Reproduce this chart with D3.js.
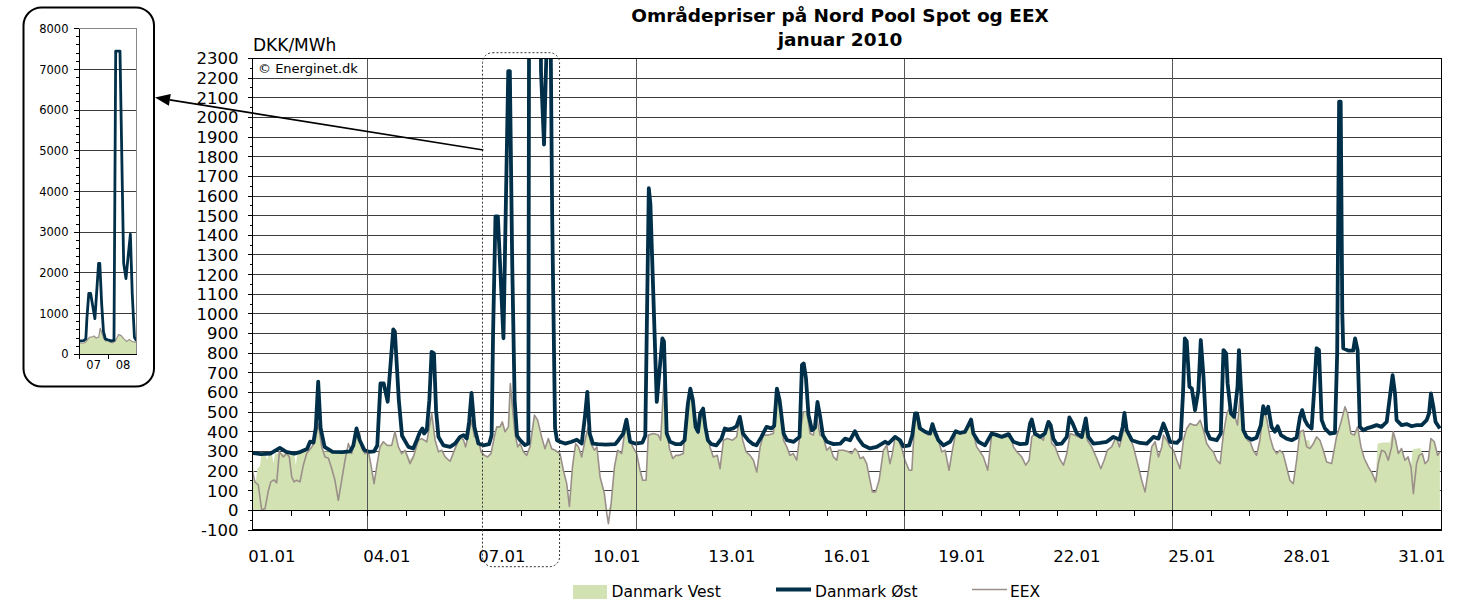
<!DOCTYPE html>
<html>
<head>
<meta charset="utf-8">
<script src="https://cdn.jsdelivr.net/npm/d3@7/dist/d3.min.js"></script>
<style>
  body { margin: 0; background: #fff; }
  text { font-family: "DejaVu Sans", Verdana, sans-serif; fill: #000; }
</style>
</head>
<body>
<svg id="chart" width="1468" height="602"></svg>
<script>
// ---- data (hour of month, DKK/MWh) ----
const titleLines = ["Områdepriser på Nord Pool Spot og EEX", "januar 2010"];
const unitLabel = "DKK/MWh";
const sourceLabel = "© Energinet.dk";
const seriesNames = ["Danmark Vest", "Danmark Øst", "EEX"];
const dayLabels = ["01.01","04.01","07.01","10.01","13.01","16.01","19.01","22.01","25.01","28.01","31.01"];
const labelDays = [1,4,7,10,13,16,19,22,25,28,31];
const weekStarts = [4, 11, 18, 25];   // mondays, vertical gridlines
const yTicks = d3.range(-100, 2301, 100);
const insetTicks = d3.range(0, 8001, 1000);
const insetDays = ["07", "08"];

const ost = [
[0,292],[5,286],[11,289],[17,318],[21,298],[26,289],[30,298],[34,312],[36,350],[38,345],[39.5,420],[41,655],[42.5,420],[45,323],[50,298],[56,296],[61,300],[63,330],[65,417],[67,357],[70,306],[73,298],[76,300],[78,330],[80,646],[82,646],[84.5,553],[88,921],[89,910],[91.5,560],[93.5,380],[97.5,323],[100.5,315],[102.7,357],[104.8,400],[106.3,417],[107.3,391],[109,408],[110.6,561],[112,807],[113.5,799],[114.8,510],[116.3,374],[119.4,331],[123.6,323],
[126.7,340],[129.8,374],[132,383],[134,366],[135.5,450],[137,598],[138.8,425],[141.3,340],[144.4,331],[148,337],[149.6,383],[150.5,900],[152,1496],[153.5,1496],[157,876],[160,2236],[161,2236],[162.5,1250],[164,560],[165.5,380],[167.4,357],[170.5,332],[172.6,340],[174,7450],[177.5,7450],[180.5,2236],[182.4,1862],[183.6,2236],[186,2950],[187.5,1500],[189.3,420],[190.5,357],[192.4,349],[195.6,340],[199.7,349],[202.9,360],[206,340],[208,476],[209.5,603],[211,391],[213,340],[216,337],[221,335],[227,337],[229,357],[232,391],[234,462],[236.3,349],[239.4,340],
[244,345],[245.8,380],[248,1640],[249,1560],[253,552],[256.5,875],[257.5,860],[259.2,391],[261.3,349],[265,337],[268,337],[270.4,357],[272.5,544],[274,620],[275.6,561],[277.3,425],[278.8,400],[280.2,493],[282,518],[283.4,425],[285,357],[287.2,337],[290.3,331],[293.5,365],[295.6,417],[297.7,411],[300.8,417],[302.9,428],[305,476],[307,391],[310.2,357],[313.3,337],[315.4,331],[318.5,374],[321.7,425],[324.8,417],[326.5,430],[328.2,620],[329.9,561],[332.4,391],[334.5,357],[338.7,349],[342.4,374],[343.9,740],[345,748],[346.4,672],[348,485],[350.2,408],[352,420],[353.6,552],[355.3,476],[357,383],[359.5,349],[363.7,337],[367.9,340],
[370.9,365],[374,357],[377.1,403],[379.2,365],[382.3,331],[386.5,315],[390.7,323],[395.9,349],[398,340],[402.2,374],[405.3,357],[407.4,326],[411,331],[413,383],[414.7,493],[416,493],[417.8,417],[421,400],[424.1,391],[425.6,439],[426.8,408],[429.3,357],[432.5,331],[436.6,349],[440.2,403],[442.9,394],[446,400],[448.1,434],[449.8,462],[451.2,391],[454.4,349],[458.5,331],[462.7,391],[465.9,383],[469,374],[473.2,388],[476.3,349],[480.5,337],[484.6,340],[486.7,442],[487.8,462],[489.8,391],[493,374],[496,391],[498.2,450],[499.6,434],[501.3,365],[503.4,337],[506.5,340],[509.7,374],[511.3,473],[513.4,442],[516,391],[519.1,374],[521.6,468],[523.2,374],[526.4,340],[530.5,343],[534.7,349],[538.9,374],[542.7,360],[544.7,425],[545.8,496],[547.2,408],[550.4,357],[555.6,343],[559.8,340],[564,374],[567.1,365],[570.2,442],[571.9,408],[574.4,349],
[578.6,343],[581,365],[582.5,600],[583.6,875],[584.8,860],[586.5,629],[588,620],[590,510],[592.1,612],[593.6,867],[595.3,680],[597,408],[599.4,365],[603.6,357],[606.1,391],[607.8,816],[609.5,799],[610.4,646],[612.5,493],[614.5,476],[616.6,629],[617.5,816],[618.7,629],[620.2,408],[622.3,374],[625.4,360],[628.5,370],[631.2,434],[632.7,530],[634.2,493],[635.8,527],[637.9,425],[640,400],[641.7,428],[643.8,383],[647.3,365],[650.5,357],[653.6,370],[655.7,476],[657.1,510],[658.8,459],[660.5,434],[663,417],[664.5,600],[666.1,825],[667.6,816],[669.3,459],[671.3,417],[674.5,391],[677.6,394],[679,800],[680.2,2080],[681.2,2080],[682.2,1000],[682.8,825],[686,813],[689,813],[690.2,875],[691.8,816],[693.2,425],[695.3,408],[697.5,417],[700.6,425],[703.7,434],[706.8,425],[710,450],[712,578],[713.7,688],[715.2,595],[716.2,459],[719.3,434],[722.5,439],[725.6,428],[728.7,434],[731.9,434],[735,459],[736.5,493],[737.7,595],[739.2,527],[740.6,450],[743.3,417]
];

const eex = [
[0,195],[1.4,144],[3.5,130],[5.6,3],[7.7,8],[9.8,100],[11.3,145],[13.3,155],[15,140],[16.7,298],[19.2,272],[21.3,289],[22.9,272],[24.4,170],[25.9,145],[27.5,153],[29.6,145],[31.7,230],[33.8,289],[37,323],[39,350],[41,442],[43.2,323],[45.3,272],[47.4,265],[49.5,212],[51.5,153],[53.6,51],[55.7,153],[57.8,255],[59.9,340],[62,289],[64.7,391],[66.8,400],[68.2,315],[70.3,289],[72.4,300],[73.9,238],[76,136],[77.6,221],[79.7,323],[81.8,349],[84.3,330],[87,331],[89.1,400],[91.2,323],[93.3,289],[95.4,306],[98.5,238],[100.6,272],[103.7,357],[105.8,365],[109,349],[112.1,493],[114.2,357],[116.3,298],[118.4,306],[120.5,272],[123.6,250],
[126.7,314],[129.8,374],[131.9,360],[133.3,323],[135,382],[137.1,459],[138.8,374],[141,374],[143,298],[145,280],[147.1,272],[149.2,289],[151.3,374],[152.8,425],[154.8,425],[156.3,450],[158,400],[160.1,425],[161.3,646],[162.8,510],[164.2,391],[165.9,323],[167.4,340],[169.5,298],[171.5,280],[173.6,323],[176.4,485],[178.4,459],[180.9,374],[183,314],[185.1,366],[187.2,314],[189.3,306],[192.4,289],[194.5,204],[196.6,136],[198.3,20],[200.2,221],[202.2,340],[204,323],[206,272],[208.1,357],[209.8,417],[211.8,340],[213.9,306],[215.5,323],[217.5,170],[220.2,85],[221.7,-17],[222.7,-68],[224.4,34],[226.5,221],[228.5,306],[231,289],[233.1,408],[234.8,434],[236.3,357],[238,323],[240.4,289],
[242.5,204],[244.2,153],[246.3,153],[247.7,383],[250.9,391],[254,383],[255.4,357],[257.5,663],[259.2,425],[260.9,315],[263,264],[265,280],[267.1,280],[269.6,289],[271.7,527],[273.8,587],[275.5,544],[277.6,408],[279,391],[281.1,510],[282.6,502],[284.3,400],[286.3,323],[288.4,272],[290.9,280],[292.6,212],[294.7,357],[297.2,366],[300.5,357],[303,374],[304.7,468],[306.8,357],[308.9,298],[311.4,280],[313.5,255],[315.6,195],[317.7,323],[319.7,383],[322.9,383],[326,391],[328.1,578],[330.2,527],[332.3,357],[334.4,323],[336.4,280],[338.5,289],[340.6,255],[342.7,391],[344.8,502],[346.9,502],[349,391],[351,383],[353.1,476],[355.2,383],[357.2,374],[359.4,306],[361.5,323],[363.6,272],[365.7,255],
[366.7,306],[370,306],[373,298],[375,289],[377.1,315],[378.8,298],[380.3,264],[382.3,272],[384.4,238],[386.5,153],[388,94],[390,94],[392.2,153],[394.9,306],[397,331],[399,238],[400.5,289],[402.2,374],[404.3,357],[406.4,315],[408.4,255],[411,204],[412.7,204],[414.7,485],[415.8,485],[416.8,417],[419.9,400],[423,383],[425.1,434],[426.8,383],[429.3,357],[431.4,298],[433.5,306],[436,204],[437.7,289],[440.2,400],[442.9,391],[446,391],[449.2,450],[451.2,391],[453.3,323],[455.4,298],[457.5,272],[460.2,204],[462.7,391],[465.9,391],[469,374],[472.1,374],[474.2,391],[476.3,323],[478.4,298],[481.5,272],[484,230],[486.1,255],[487.8,374],
[489.8,391],[493,374],[495,357],[497.1,442],[498.8,456],[500.3,340],[502.4,323],[505.1,264],[507.6,230],[509.7,289],[511.8,391],[514.3,383],[517,374],[519.1,366],[521.1,442],[522.6,357],[525.3,323],[528.5,264],[531,212],[533.1,255],[535.1,306],[537.8,323],[540.6,374],[542.7,323],[545.2,408],[547.2,400],[549.3,374],[551.4,323],[554.6,221],[556.6,153],[558.7,94],[560.8,204],[562.9,323],[565,349],[567.1,272],[569.2,323],[570.2,383],[572.3,357],[574.4,323],[576.5,306],[578.6,255],[580.6,212],[582.7,357],[584.8,417],[586.9,442],[589,434],[591,434],[593.2,459],[595.3,408],[597.3,340],[599.4,315],[601.5,298],[603.6,255],[605.7,238],[607.8,391],[609.9,493],[612,527],
[612.9,485],[615,476],[616.6,434],[618.1,570],[619.6,493],[621.2,383],[622.9,357],[624.5,349],[626.4,306],[628.5,280],[630.6,357],[632.7,510],[634.8,468],[636.9,374],[639,315],[641.1,289],[643.1,306],[645.2,289],[647.3,221],[649.4,153],[651.5,136],[653.6,255],[655.7,400],[657.8,408],[659.9,323],[662,315],[664.1,340],[666.1,374],[668.2,357],[670.3,306],[672.4,246],[675.5,238],[678.6,374],[681.4,450],[683.9,527],[685.5,493],[687.6,391],[689.7,383],[691.8,425],[693.9,323],[696,264],[698.5,221],[701,187],[703.1,145],[704.7,238],[706.8,306],[708.9,298],[711,255],[713.1,323],[714.1,400],[715.6,357],[717.3,289],[719.3,315],[721.4,255],[723.4,272],[725.2,221],[726.7,85],[728.7,238],[730.4,280],[732.3,289],[734,238],[736,255],[737.7,366],[739.8,349],[741.9,280],[743.3,298]
];

const vest = [
[0,270],[1,160],[2,150],[3,215],[4.5,225],[5.5,290],[8,290],[9,255],[10,290],[12,290],[13,240],[14,290],[26,292],[27,230],[28,292],[33,300],[37,330],[39,350],[41,442],[43,330],[45,300],[62,300],[64.7,391],[66.8,400],[68.5,315],[72,300],[73.9,238],[76,150],[77.6,221],[79.7,323],[81.8,349],[84.3,335],[87,335],[89.1,400],[91.2,323],[93.3,295],[95.4,306],[98.5,260],[100.6,280],[103.7,357],[105.8,365],[109,350],[112.1,493],[114.2,357],[116.3,300],[118.4,306],[120.5,272],[123.6,255],
[126.7,314],[129.8,374],[131.9,360],[133.3,323],[135,382],[137.1,459],[138.8,374],[141,374],[143,298],[145,280],[147.1,272],[149.2,289],[151.3,374],[152.8,425],[154.8,425],[156.3,450],[158,400],[160.1,425],[161.3,646],[162.8,510],[164.2,391],[165.9,323],[167.4,340],[169.5,298],[171.5,280],[173.6,323],[176.4,485],[178.4,459],[180.9,374],[183,314],[185.1,366],[187.2,314],[189.3,306],[192.4,289],[194.5,204],[196.6,136],[198.3,20],[200.2,221],[202.2,340],[204,323],[206,272],[208.1,357],[209.8,417],[211.8,340],[213.9,306],[215.5,323],[217.5,170],[220.2,85],[221.7,10],[222.7,5],[224.4,34],[226.5,221],[228.5,306],[231,289],[233.1,408],[234.8,434],[236.3,357],[238,323],[240.4,289],
[242.5,204],[244.2,153],[246.3,153],[247.7,383],[250.9,391],[254,383],[255.4,357],[257.5,663],[259.2,425],[260.9,315],[263,264],[265,280],[267.1,280],[269.6,289],[271.7,527],[273.8,587],[275.5,544],[277.6,408],[279,391],[281.1,510],[282.6,502],[284.3,400],[286.3,323],[288.4,272],[290.9,280],[292.6,212],[294.7,357],[297.2,366],[300.5,357],[303,374],[304.7,468],[306.8,357],[308.9,298],[311.4,280],[313.5,255],[315.6,195],[317.7,323],[319.7,383],[322.9,383],[326,391],[328.1,578],[330.2,527],[332.3,357],[334.4,323],[336.4,280],[338.5,289],[340.6,255],[342.7,391],[344.8,502],[346.9,502],[349,391],[351,383],[353.1,476],[355.2,383],[357.2,374],[359.4,306],[361.5,323],[363.6,272],[365.7,255],
[366.7,306],[370,306],[373,298],[375,289],[377.1,315],[378.8,298],[380.3,264],[382.3,272],[384.4,238],[386.5,153],[388,94],[390,94],[392.2,153],[394.9,306],[397,331],[399,238],[400.5,289],[402.2,374],[404.3,357],[406.4,315],[408.4,255],[411,204],[412.7,204],[414.7,485],[415.8,485],[416.8,417],[419.9,400],[423,383],[425.1,434],[426.8,383],[429.3,357],[431.4,298],[433.5,306],[436,204],[437.7,289],[440.2,400],[442.9,391],[446,391],[449.2,450],[451.2,391],[453.3,323],[455.4,298],[457.5,272],[460.2,204],[462.7,391],[465.9,391],[469,374],[472.1,374],[474.2,391],[476.3,323],[478.4,298],[481.5,272],[484,230],[486.1,255],[487.8,374],
[489.8,391],[493,374],[495,357],[497.1,442],[498.8,456],[500.3,340],[502.4,323],[505.1,264],[507.6,230],[509.7,289],[511.8,391],[514.3,383],[517,374],[519.1,366],[521.1,442],[522.6,357],[525.3,323],[528.5,264],[531,212],[533.1,255],[535.1,306],[537.8,323],[540.6,374],[542.7,323],[545.2,408],[547.2,400],[549.3,374],[551.4,323],[554.6,221],[556.6,153],[558.7,94],[560.8,204],[562.9,323],[565,349],[567.1,272],[569.2,323],[570.2,383],[572.3,357],[574.4,323],[576.5,306],[578.6,255],[580.6,212],[582.7,357],[584.8,417],[586.9,442],[589,434],[591,434],[593.2,459],[595.3,408],[597.3,340],[599.4,315],[601.5,298],[603.6,255],[605.7,238],[607.8,391],[609.9,493],[612,527],
[612.9,485],[615,476],[616.6,434],[618.1,570],[619.6,493],[621.2,383],[622.9,357],[624.5,349],[626.4,306],[628.5,280],[630.6,357],[632.7,510],[634.8,468],[636.9,374],[639,315],[641.1,289],[643.1,306],[645.2,289],[647.3,221],[649.4,153],[651.5,136],[653.6,255],[655.7,400],[657.8,408],[659,357],[661.5,357],[662.5,318],[664.1,340],[666.1,374],[668.2,357],[670.3,306],[672.4,246],[675.5,238],[678.6,374],[681.4,450],[683.9,527],[685.5,493],[687.6,391],[689.7,383],[691.8,425],[693.9,323],[696,264],[698.5,221],[701,187],[703.1,145],[704.3,340],[708,345],[712,345],[713.5,400],[715.6,357],[717.3,289],[719.3,315],[721.4,255],[723.4,272],[725.2,221],[726.2,310],[731,318],[732.3,289],[734,238],[736,255],[737.7,366],[739.8,349],[741.9,280],[743.3,298]
];

// ---- colours ----
const cVest = "#d2e2b3", cOst = "#003049", cEex = "#9a9089";

const svg = d3.select("#chart");
svg.append("rect").attr("width", 1468).attr("height", 602).attr("fill", "#fff");

// ---- main plot ----
const L = 252.7, R = 1441, T = 58.5, B = 530;
const x = d3.scaleLinear().domain([0, 744]).range([L, R]);
const y = d3.scaleLinear().domain([-100, 2300]).range([B, T]);

svg.append("clipPath").attr("id", "clipMain")
  .append("rect").attr("x", L).attr("y", T).attr("width", R - L).attr("height", B - T);

const g = svg.append("g");

// horizontal gridlines (under the area)
g.selectAll(".hgrid")
  .data(yTicks.filter(d => d > -100 && d < 2300 && d !== 0))
  .enter().append("line")
    .attr("x1", L).attr("x2", R)
    .attr("y1", d => y(d)).attr("y2", d => y(d))
    .attr("stroke", "#3c3c3c").attr("stroke-width", 1)
    .attr("shape-rendering", "crispEdges");

const plot = g.append("g").attr("clip-path", "url(#clipMain)");

plot.append("path")
  .datum(vest)
  .attr("fill", cVest)
  .attr("d", d3.area().x(d => x(d[0])).y0(y(0)).y1(d => y(d[1])));

// weekly vertical gridlines
g.selectAll(".vgrid")
  .data(weekStarts)
  .enter().append("line")
    .attr("x1", d => x((d - 1) * 24)).attr("x2", d => x((d - 1) * 24))
    .attr("y1", T).attr("y2", B)
    .attr("stroke", "#555").attr("stroke-width", 1)
    .attr("shape-rendering", "crispEdges");

// zero line with day ticks
g.append("line")
  .attr("x1", L).attr("x2", R).attr("y1", y(0)).attr("y2", y(0))
  .attr("stroke", "#000").attr("stroke-width", 1).attr("shape-rendering", "crispEdges");
g.selectAll(".dtick")
  .data(d3.range(1, 31))
  .enter().append("line")
    .attr("x1", d => x(d * 24)).attr("x2", d => x(d * 24))
    .attr("y1", y(0)).attr("y2", y(0) + 6)
    .attr("stroke", "#000").attr("shape-rendering", "crispEdges");

const line = d3.line().x(d => x(d[0])).y(d => y(d[1]));
plot.append("path").datum(eex)
  .attr("fill", "none").attr("stroke", cEex).attr("stroke-width", 1.6)
  .attr("stroke-linejoin", "round").attr("d", line);
plot.append("path").datum(ost)
  .attr("fill", "none").attr("stroke", cOst).attr("stroke-width", 3.8)
  .attr("stroke-linejoin", "round").attr("d", line);

// frame
g.append("rect")
  .attr("x", L).attr("y", T).attr("width", R - L).attr("height", B - T)
  .attr("fill", "none").attr("stroke", "#000").attr("stroke-width", 1)
  .attr("shape-rendering", "crispEdges");
g.append("line").attr("x1", L).attr("x2", R).attr("y1", B).attr("y2", B)
  .attr("stroke", "#000").attr("stroke-width", 2);

// y axis ticks + labels
g.selectAll(".ymaj")
  .data(yTicks)
  .enter().append("line")
    .attr("x1", L - 5).attr("x2", L).attr("y1", d => y(d)).attr("y2", d => y(d))
    .attr("stroke", "#000").attr("shape-rendering", "crispEdges");
g.selectAll(".ymin")
  .data(d3.range(-50, 2300, 100))
  .enter().append("line")
    .attr("x1", L - 3).attr("x2", L).attr("y1", d => y(d)).attr("y2", d => y(d))
    .attr("stroke", "#000").attr("shape-rendering", "crispEdges");
g.selectAll(".ylab")
  .data(yTicks)
  .enter().append("text")
    .attr("x", 238.5).attr("y", d => y(d)).attr("dy", "0.36em")
    .attr("text-anchor", "end").style("font-size", "16.5px")
    .text(d => d);

// x labels
g.selectAll(".xlab")
  .data(dayLabels)
  .enter().append("text")
    .attr("x", (d, i) => x((labelDays[i] - 1) * 24 + 12)).attr("y", 562)
    .attr("text-anchor", "middle").style("font-size", "16.5px")
    .text(d => d);

// titles and notes
svg.selectAll(".title")
  .data(titleLines)
  .enter().append("text")
    .attr("x", 840).attr("y", (d, i) => 22 + i * 24)
    .attr("text-anchor", "middle").style("font-size", "18.5px").style("font-weight", "bold")
    .text(d => d);
svg.append("text").attr("x", 253).attr("y", 51).style("font-size", "17px").text(unitLabel);
svg.append("text").attr("x", 258).attr("y", 73).style("font-size", "13px").text(sourceLabel);

// dotted zoom box round 7-8 jan
svg.append("rect")
  .attr("x", x(6 * 24) - 0.2).attr("y", 52.7)
  .attr("width", x(8 * 24) - x(6 * 24) + 0.4).attr("height", 514)
  .attr("rx", 10).attr("fill", "none")
  .attr("stroke", "#333").attr("stroke-width", 1).attr("stroke-dasharray", "2,2");

// arrow to inset
const tail = [483.3, 150], tip = [155, 97.5];
const len = Math.hypot(tail[0] - tip[0], tail[1] - tip[1]);
const ux = (tail[0] - tip[0]) / len, uy = (tail[1] - tip[1]) / len;
const base = [tip[0] + ux * 15, tip[1] + uy * 15];
svg.append("line").attr("x1", tail[0]).attr("y1", tail[1]).attr("x2", base[0]).attr("y2", base[1])
  .attr("stroke", "#000").attr("stroke-width", 1.6);
svg.append("path")
  .attr("d", d3.line()([tip, [base[0] - uy * 6, base[1] + ux * 6], [base[0] + uy * 6, base[1] - ux * 6]]) + "Z")
  .attr("fill", "#000");

// ---- inset ----
svg.append("rect").attr("x", 23.5).attr("y", 7.5).attr("width", 130.5).attr("height", 379)
  .attr("rx", 18).attr("fill", "#fff").attr("stroke", "#000").attr("stroke-width", 2);

const iL = 79, iR = 136.5, iT = 28.7, iB = 354.3;
const ix = d3.scaleLinear().domain([144, 191]).range([iL, iR]);
const iy = d3.scaleLinear().domain([0, 8000]).range([iB, iT]);
svg.append("clipPath").attr("id", "clipInset")
  .append("rect").attr("x", iL).attr("y", iT).attr("width", iR - iL).attr("height", iB - iT);

const gi = svg.append("g");
gi.selectAll(".igrid")
  .data(insetTicks.filter(d => d > 0))
  .enter().append("line")
    .attr("x1", iL).attr("x2", iR).attr("y1", d => iy(d)).attr("y2", d => iy(d))
    .attr("stroke", "#3c3c3c").attr("shape-rendering", "crispEdges");
const ip = gi.append("g").attr("clip-path", "url(#clipInset)");
const inRange = s => s.filter(d => d[0] >= 140 && d[0] <= 196);
ip.append("path").datum(inRange(vest)).attr("fill", cVest)
  .attr("d", d3.area().x(d => ix(d[0])).y0(iy(0)).y1(d => iy(d[1])));
const iline = d3.line().x(d => ix(d[0])).y(d => iy(d[1]));
ip.append("path").datum(inRange(eex)).attr("fill", "none").attr("stroke", cEex)
  .attr("stroke-width", 1.2).attr("d", iline);
ip.append("path").datum(inRange(ost)).attr("fill", "none").attr("stroke", cOst)
  .attr("stroke-width", 2.8).attr("stroke-linejoin", "round").attr("d", iline);

gi.append("rect").attr("x", iL).attr("y", iT).attr("width", iR - iL).attr("height", iB - iT)
  .attr("fill", "none").attr("stroke", "#888").attr("shape-rendering", "crispEdges");
gi.append("line").attr("x1", iL).attr("x2", iL).attr("y1", iT).attr("y2", iB)
  .attr("stroke", "#000").attr("shape-rendering", "crispEdges");
gi.append("line").attr("x1", iL).attr("x2", iR).attr("y1", iB).attr("y2", iB)
  .attr("stroke", "#000").attr("shape-rendering", "crispEdges");
gi.selectAll(".imaj")
  .data(insetTicks)
  .enter().append("line")
    .attr("x1", iL - 5).attr("x2", iL).attr("y1", d => iy(d)).attr("y2", d => iy(d))
    .attr("stroke", "#000").attr("shape-rendering", "crispEdges");
gi.selectAll(".imin")
  .data(d3.range(200, 8000, 200).filter(d => d % 1000 !== 0))
  .enter().append("line")
    .attr("x1", iL - 3).attr("x2", iL).attr("y1", d => iy(d)).attr("y2", d => iy(d))
    .attr("stroke", "#000").attr("shape-rendering", "crispEdges");
gi.selectAll(".ilab")
  .data(insetTicks)
  .enter().append("text")
    .attr("x", 68.5).attr("y", d => iy(d)).attr("dy", "0.36em")
    .attr("text-anchor", "end").style("font-size", "11.5px")
    .text(d => d);
gi.selectAll(".ixt")
  .data([144, 168])
  .enter().append("line")
    .attr("x1", d => ix(d)).attr("x2", d => ix(d)).attr("y1", iB).attr("y2", iB + 5)
    .attr("stroke", "#000").attr("shape-rendering", "crispEdges");
gi.selectAll(".ixl")
  .data(insetDays)
  .enter().append("text")
    .attr("x", (d, i) => ix(156 + i * 24)).attr("y", 368.5)
    .attr("text-anchor", "middle").style("font-size", "11.5px")
    .text(d => d);

// ---- legend ----
const lg = svg.append("g");
lg.append("rect").attr("x", 573).attr("y", 585).attr("width", 34).attr("height", 14).attr("fill", cVest);
lg.append("text").attr("x", 611.5).attr("y", 597).style("font-size", "15.5px").text(seriesNames[0]);
lg.append("line").attr("x1", 776).attr("x2", 811).attr("y1", 589.5).attr("y2", 589.5)
  .attr("stroke", cOst).attr("stroke-width", 4);
lg.append("text").attr("x", 815).attr("y", 597).style("font-size", "15.5px").text(seriesNames[1]);
lg.append("line").attr("x1", 972).attr("x2", 1007).attr("y1", 589.5).attr("y2", 589.5)
  .attr("stroke", cEex).attr("stroke-width", 1.6);
lg.append("text").attr("x", 1010).attr("y", 597).style("font-size", "15.5px").text(seriesNames[2]);
</script>
</body>
</html>
